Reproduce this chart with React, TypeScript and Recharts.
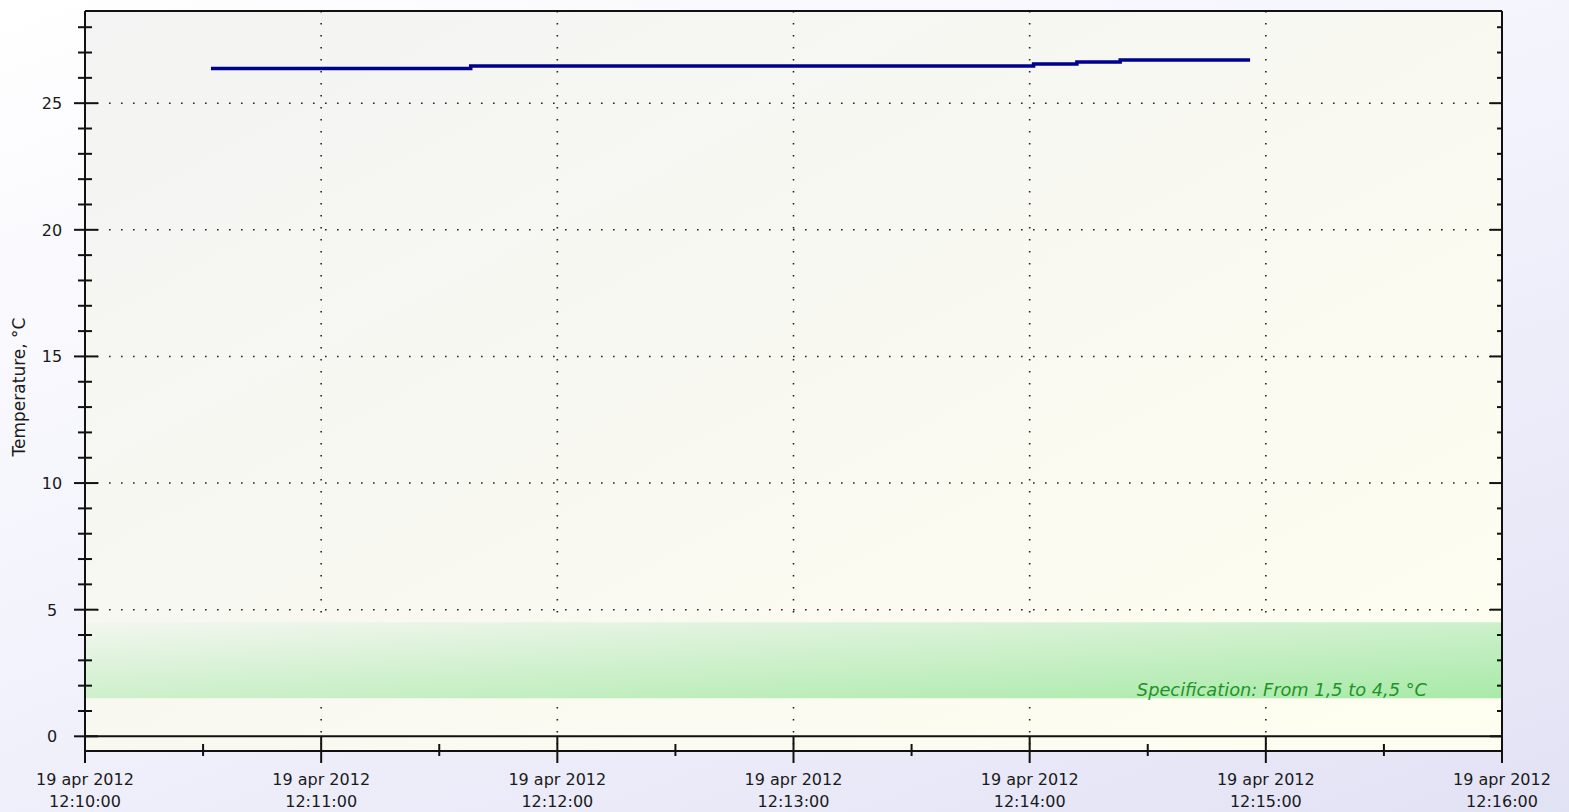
import { ComposedChart, Line, XAxis, YAxis, CartesianGrid, ReferenceArea, ReferenceLine } from 'recharts';

// seconds after 12:10:00, one sample every 11 s
const seconds = [32, 43, 54, 65, 76, 87, 98, 109, 120, 131, 142, 153, 164, 175, 186, 197, 208, 219, 230, 241, 252, 263, 274, 285, 296];
const temperature = [
  26.37, 26.37, 26.37, 26.37, 26.37, 26.37,
  26.47, 26.47, 26.47, 26.47, 26.47, 26.47, 26.47, 26.47, 26.47, 26.47, 26.47, 26.47, 26.47,
  26.55, 26.63, 26.71, 26.71, 26.71, 26.71,
];

const xMajorTicks = [0, 60, 120, 180, 240, 300, 360];
const xAllTicks = [0, 30, 60, 90, 120, 150, 180, 210, 240, 270, 300, 330, 360];
const xTickDate = '19 apr 2012';
const xTickTimes = ['12:10:00', '12:11:00', '12:12:00', '12:13:00', '12:14:00', '12:15:00', '12:16:00'];
const yMajorTicks = [5, 10, 15, 20, 25];
const yAllTicks = [0, 1, 2, 3, 4, 5, 6, 7, 8, 9, 10, 11, 12, 13, 14, 15, 16, 17, 18, 19, 20, 21, 22, 23, 24, 25, 26, 27, 28];
const specMin = 1.5;
const specMax = 4.5;
const specText = 'Specification: From 1,5 to 4,5 °C';

const data = seconds.map((s, i) => ({ s, t: temperature[i] }));

const FONT = 'DejaVu Sans';
const INK = '#111';

const LeftTick = ({ x, y, payload }: any) => {
  const major = payload.value % 5 === 0;
  return (
    <g>
      <line x1={x - (major ? 11 : 7)} x2={x + (major ? 13 : 7)} y1={y} y2={y} stroke={INK} strokeWidth={2} />
      {major && (
        <text x={x - 33} y={y + 6} textAnchor="middle" fontFamily={FONT} fontSize={16} fill="#1a1a1a">
          {payload.value}
        </text>
      )}
    </g>
  );
};

const RightTick = ({ x, y, payload }: any) => {
  const major = payload.value % 5 === 0;
  return <line x1={x - (major ? 12 : 5)} x2={x} y1={y} y2={y} stroke={INK} strokeWidth={2} />;
};

const TopTick = ({ x, y, payload }: any) => {
  const major = payload.value % 60 === 0;
  return <line x1={x} x2={x} y1={y} y2={y + (major ? 13 : 6)} stroke={INK} strokeWidth={2} />;
};

const BottomTick = ({ x, y, payload }: any) => {
  const major = payload.value % 60 === 0;
  const idx = xMajorTicks.indexOf(payload.value);
  return (
    <g>
      <line x1={x} x2={x} y1={y - (major ? 14 : 7)} y2={y + (major ? 12 : 5)} stroke={INK} strokeWidth={2} />
      {major && (
        <text x={x} textAnchor="middle" fontFamily={FONT} fontSize={16} fill="#1a1a1a">
          <tspan x={x} y={y + 34}>{xTickDate}</tspan>
          <tspan x={x} y={y + 56}>{xTickTimes[idx]}</tspan>
        </text>
      )}
    </g>
  );
};

const SpecLabel = (props: any) => {
  const vb = props.viewBox;
  return (
    <text
      x={vb.x + vb.width - 75}
      y={vb.y + vb.height - 2}
      textAnchor="end"
      fontFamily={FONT}
      fontStyle="italic"
      fontSize={17.8}
      fill="#1f9426"
    >
      {specText}
    </text>
  );
};

const YTitle = (props: any) => {
  const vb = props.viewBox;
  const cy = vb.y + vb.height / 2 + 6;
  return (
    <text x={19} y={cy} transform={`rotate(-90 19 ${cy})`} textAnchor="middle" dominantBaseline="central" fontFamily={FONT} fontSize={17} fill="#1a1a1a">
      Temperature, °C
    </text>
  );
};

export default function App() {
  const yDomain = [-0.58, 28.64];
  return (
    <div
      style={{
        position: 'absolute',
        left: 0,
        top: 0,
        width: 1569,
        height: 812,
        background: 'linear-gradient(160deg, #ffffff 0%, #f2f2fc 50%, #e2e2f5 100%)',
      }}
    >
      <ComposedChart width={1569} height={812} data={data} margin={{ top: 10, right: 66, bottom: 11, left: 25 }}>
        <defs>
          <linearGradient id="plotBg" x1="0" y1="0" x2="1" y2="1">
            <stop offset="0%" stopColor="#f3f3f3" />
            <stop offset="100%" stopColor="#fefef0" />
          </linearGradient>
          <linearGradient id="specBg" x1="0" y1="0" x2="1" y2="1">
            <stop offset="0%" stopColor="#f3f6ef" />
            <stop offset="100%" stopColor="#a8eaa8" />
          </linearGradient>
        </defs>
        <CartesianGrid
          fill="url(#plotBg)"
          stroke="#222"
          strokeWidth={1.6}
          strokeDasharray="1.6 10.4"
          horizontalValues={yMajorTicks}
          verticalValues={[60, 120, 180, 240, 300]}
        />
        <ReferenceArea
          x1={0}
          x2={360}
          y1={specMin}
          y2={specMax}
          fill="url(#specBg)"
          fillOpacity={1}
          stroke="none"
          ifOverflow="hidden"
          label={(p: any) => <SpecLabel {...p} />}
        />
        <ReferenceLine y={0} stroke={INK} strokeWidth={2} />
        <XAxis
          dataKey="s"
          type="number"
          domain={[0, 360]}
          allowDataOverflow
          ticks={xAllTicks}
          interval={0}
          height={50}
          tickSize={0}
          tickMargin={0}
          tickLine={false}
          axisLine={{ stroke: INK, strokeWidth: 2 }}
          tick={<BottomTick />}
        />
        <XAxis
          xAxisId="top"
          orientation="top"
          type="number"
          domain={[0, 360]}
          allowDataOverflow
          ticks={xAllTicks}
          interval={0}
          height={1}
          tickSize={0}
          tickMargin={0}
          tickLine={false}
          axisLine={{ stroke: INK, strokeWidth: 2 }}
          tick={<TopTick />}
        />
        <YAxis
          type="number"
          domain={yDomain}
          allowDataOverflow
          ticks={yAllTicks}
          interval={0}
          width={60}
          tickSize={0}
          tickMargin={0}
          tickLine={false}
          axisLine={{ stroke: INK, strokeWidth: 2 }}
          tick={<LeftTick />}
          label={(p: any) => <YTitle {...p} />}
        />
        <YAxis
          yAxisId="right"
          orientation="right"
          type="number"
          domain={yDomain}
          allowDataOverflow
          ticks={yAllTicks}
          interval={0}
          width={1}
          tickSize={0}
          tickMargin={0}
          tickLine={false}
          axisLine={{ stroke: INK, strokeWidth: 2 }}
          tick={<RightTick />}
        />
        <Line
          type="stepAfter"
          dataKey="t"
          stroke="#00008e"
          strokeWidth={3.5}
          dot={false}
          isAnimationActive={false}
        />
      </ComposedChart>
    </div>
  );
}
